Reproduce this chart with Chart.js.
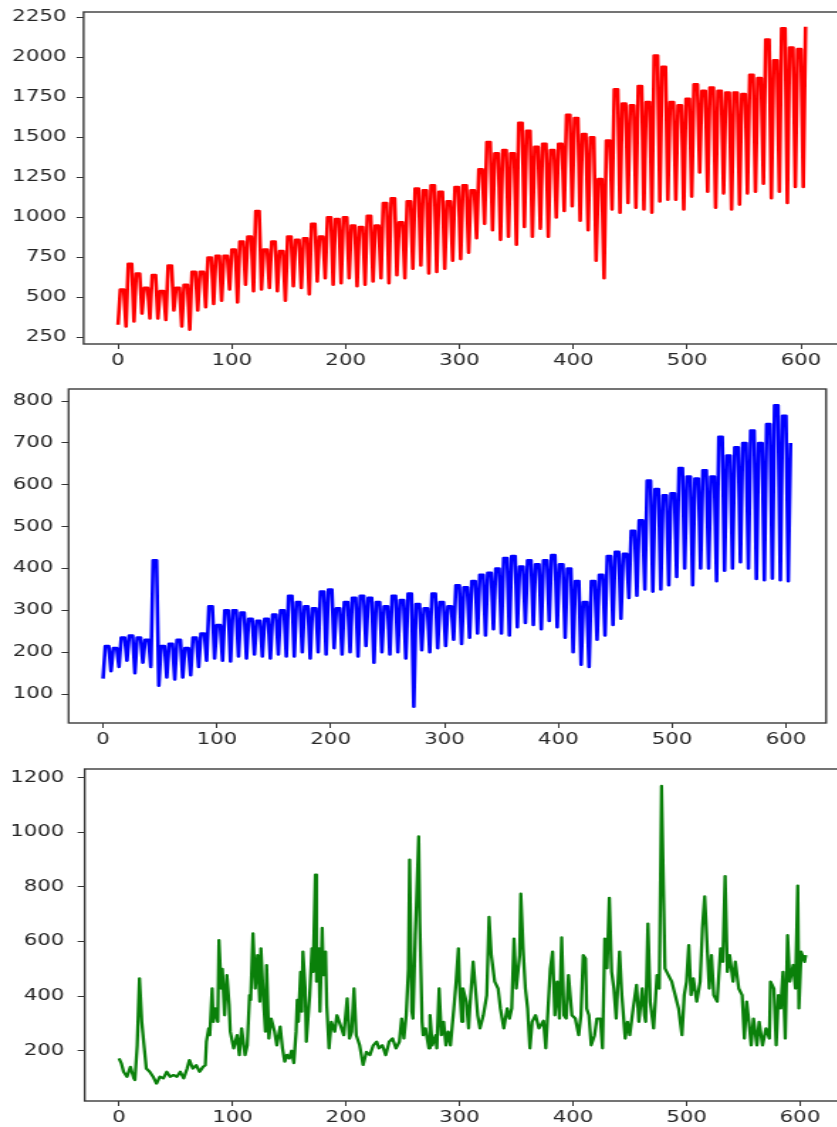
<!DOCTYPE html>
<html>
<head>
<meta charset="utf-8">
<script src="https://cdn.jsdelivr.net/npm/chart.js@4.4.1/dist/chart.umd.min.js"></script>
<style>
  html, body { margin: 0; padding: 0; background: #fff; overflow: hidden; }
  #figure { position: relative; width: 837px; height: 1127px; overflow: hidden; }
  canvas { position: absolute; left: 0; transform-origin: 0 0; }
</style>
</head>
<body>
<div id="figure">
  <canvas id="c1"></canvas>
  <canvas id="c2"></canvas>
  <canvas id="c3"></canvas>
</div>
<script>
// ---- data -------------------------------------------------------------
// Weekly lows / highs (one entry per 7-day block, days 0..605)
const WEEK = 7;
const redLow = [
  330, 320, 350, 400, 370, 370, 360, 420, 320, 300,
  420, 440, 460, 480, 550, 470, 580, 540, 550, 560,
  540, 480, 570, 560, 520, 600, 620, 580, 590, 620,
  570, 580, 600, 620, 590, 640, 620, 680, 700, 650,
  660, 680, 730, 740, 780, 870, 960, 920, 860, 880,
  830, 940, 880, 930, 880, 1000, 1040, 1070, 980, 920,
  730, 620, 1050, 1030, 1090, 1060, 1050, 1030, 1100, 1110,
  1110, 1050, 1130, 1280, 1160, 1060, 1150, 1050, 1080, 1150,
  1160, 1210, 1120, 1160, 1090, 1190, 1190
];
const redHigh = [
  550, 710, 650, 560, 640, 540, 700, 560, 580, 660,
  660, 750, 760, 760, 800, 850, 880, 1040, 800, 850,
  790, 880, 860, 870, 960, 880, 1000, 990, 1000, 950,
  940, 1010, 950, 1090, 1120, 970, 1100, 1180, 1170, 1200,
  1160, 1100, 1190, 1200, 1170, 1300, 1470, 1400, 1420, 1400,
  1590, 1540, 1440, 1460, 1420, 1460, 1640, 1620, 1520, 1500,
  1240, 1480, 1800, 1710, 1700, 1820, 1720, 2010, 1940, 1720,
  1700, 1740, 1830, 1790, 1810, 1790, 1780, 1780, 1770, 1890,
  1870, 2110, 1980, 2180, 2060, 2050, 2190
];
const blueLow = [
  137, 155, 165, 180, 150, 175, 165, 120, 140, 135,
  140, 145, 165, 180, 185, 180, 178, 190, 185, 195,
  190, 185, 195, 190, 190, 200, 185, 200, 195, 210,
  195, 200, 190, 215, 175, 200, 195, 200, 185, 70,
  205, 200, 210, 215, 230, 220, 235, 245, 240, 255,
  245, 240, 260, 270, 265, 255, 275, 260, 235, 200,
  170, 165, 230, 240, 265, 280, 330, 335, 350, 345,
  350, 360, 380, 400, 360, 400, 400, 370, 395, 400,
  415, 400, 375, 372, 376, 372, 370
];
const blueHigh = [
  215, 210, 235, 240, 235, 230, 420, 215, 220, 230,
  210, 235, 245, 310, 265, 300, 300, 295, 280, 275,
  280, 290, 300, 335, 320, 310, 305, 345, 350, 305,
  320, 330, 335, 330, 320, 310, 335, 325, 340, 315,
  305, 340, 320, 310, 360, 355, 370, 385, 390, 400,
  425, 430, 405, 420, 410, 420, 432, 410, 400, 370,
  320, 370, 385, 430, 440, 435, 490, 515, 610, 590,
  575, 580, 640, 620, 615, 635, 620, 715, 670, 690,
  700, 730, 700, 745, 790, 765, 700
];
// Daily series, sampled at its turning points
const greenDays = [
  0, 2, 4, 7, 10, 13, 14, 16, 18, 20, 22, 24, 27, 30, 33, 36, 39, 42, 45, 48,
  51, 54, 57, 60, 62, 65, 68, 71, 74, 76, 77, 79, 80, 82, 83, 85, 87, 88, 90, 91,
  93, 95, 97, 98, 101, 104, 106, 108, 111, 113, 115, 116, 118, 120, 122, 124, 125, 127, 129, 130,
  132, 134, 137, 139, 142, 144, 146, 148, 150, 152, 154, 156, 157, 158, 160, 161, 162, 164, 165, 168,
  170, 171, 173, 174, 176, 177, 179, 180, 182, 183, 185, 187, 190, 192, 195, 198, 201, 203, 205, 207,
  209, 212, 215, 218, 221, 224, 227, 229, 232, 235, 238, 241, 244, 247, 249, 251, 253, 255, 256, 258,
  259, 261, 262, 264, 265, 267, 268, 270, 273, 274, 276, 279, 280, 282, 284, 286, 288, 290, 292, 295,
  297, 299, 300, 302, 303, 306, 308, 309, 312, 314, 316, 318, 321, 324, 326, 328, 331, 334, 336, 339,
  342, 344, 346, 348, 350, 353, 354, 356, 358, 360, 362, 364, 367, 370, 374, 376, 378, 380, 382, 384,
  386, 388, 390, 392, 394, 396, 399, 402, 405, 407, 409, 411, 412, 414, 416, 419, 421, 424, 426, 428,
  430, 432, 434, 436, 438, 441, 443, 446, 448, 450, 453, 456, 458, 461, 463, 464, 466, 468, 471, 474,
  476, 478, 481, 484, 487, 490, 493, 496, 498, 500, 502, 504, 506, 509, 512, 514, 516, 518, 520, 522,
  524, 527, 530, 532, 534, 536, 538, 541, 543, 546, 549, 551, 553, 555, 557, 559, 562, 564, 567, 570,
  573, 574, 577, 579, 581, 583, 585, 587, 589, 591, 594, 596, 598, 599, 601, 604, 605
];
const greenValues = [
  172, 154, 123, 105, 141, 99, 93, 220, 465, 306, 220, 135, 123, 105, 80, 105, 99, 123, 105, 111,
  105, 123, 99, 135, 166, 135, 147, 123, 141, 147, 233, 282, 257, 428, 306, 355, 306, 605, 428, 500,
  330, 477, 367, 270, 209, 257, 184, 282, 184, 220, 404, 386, 630, 428, 550, 380, 575, 404, 270, 514,
  245, 318, 270, 220, 288, 209, 160, 185, 172, 200, 155, 270, 386, 306, 489, 343, 563, 428, 233, 404,
  575, 489, 845, 453, 575, 343, 650, 477, 563, 367, 209, 306, 270, 330, 294, 257, 392, 245, 270, 428,
  257, 220, 148, 196, 184, 220, 233, 209, 220, 184, 233, 245, 209, 233, 318, 245, 330, 500, 900, 343,
  318, 623, 733, 985, 673, 306, 257, 282, 209, 330, 220, 257, 209, 428, 257, 306, 220, 270, 220, 355,
  453, 575, 441, 306, 428, 380, 282, 355, 526, 428, 330, 282, 330, 404, 690, 550, 453, 428, 355, 282,
  355, 318, 355, 611, 428, 550, 775, 575, 428, 355, 209, 306, 330, 282, 310, 209, 355, 500, 563, 330,
  453, 318, 615, 330, 318, 477, 330, 318, 257, 330, 550, 538, 355, 330, 220, 257, 318, 318, 209, 611,
  502, 760, 489, 428, 318, 563, 404, 245, 306, 257, 355, 441, 306, 428, 330, 306, 666, 380, 282, 477,
  428, 1170, 502, 477, 453, 404, 355, 257, 404, 453, 587, 404, 465, 380, 453, 648, 765, 600, 428, 550,
  404, 380, 575, 526, 840, 489, 550, 453, 526, 428, 404, 245, 380, 306, 220, 318, 220, 306, 220, 282,
  245, 453, 428, 220, 404, 355, 489, 245, 623, 453, 514, 428, 805, 355, 563, 526, 550
];
// Axis ticks
const xTicks = [0, 100, 200, 300, 400, 500, 600];
const redTicks = [250, 500, 750, 1000, 1250, 1500, 1750, 2000, 2250];
const blueTicks = [100, 200, 300, 400, 500, 600, 700, 800];
const greenTicks = [200, 400, 600, 800, 1000, 1200];

// ---- drawing ----------------------------------------------------------
const SX = 1.42;            // the figure is drawn horizontally stretched
const X_RANGE = [-30.25, 635.25];
const TEXT = '#262626';
const FONT = { family: "'DejaVu Sans', 'Liberation Sans', sans-serif", size: 15 };

// Each week: a low day, then the high level held through the working days.
function weekly(low, high) {
  const pts = [];
  low.forEach((v, k) => {
    const d = k * WEEK;
    pts.push({ x: d, y: v });
    if (d + 2 <= 605) pts.push({ x: d + 2, y: high[k] });
    if (d + 5 <= 605) pts.push({ x: d + 5, y: high[k] });
  });
  return pts;
}

// Box round the plot area (all four sides)
const frame = {
  id: 'frame',
  afterDatasetsDraw(chart) {
    const { ctx, chartArea: a } = chart;
    ctx.save();
    ctx.strokeStyle = '#3a3a3a';
    ctx.lineWidth = 1.4;
    ctx.strokeRect(a.left, a.top, a.right - a.left, a.bottom - a.top);
    ctx.restore();
  }
};

const panels = [
  { id: 'c1', top: 0, height: 372, plot: { left: 83.6, right: 841.1, top: 12, bottom: 344 },
    labelRight: 65, yRange: [210, 2282], yTicks: redTicks, color: '#ff0000', width: 2.6,
    points: weekly(redLow, redHigh) },
  { id: 'c2', top: 375, height: 375, plot: { left: 68.6, right: 826.1, top: 14, bottom: 348 },
    labelRight: 52, yRange: [31, 829], yTicks: blueTicks, color: '#0000ff', width: 2.6,
    points: weekly(blueLow, blueHigh) },
  { id: 'c3', top: 755, height: 372, plot: { left: 84.7, right: 840, top: 14, bottom: 346 },
    labelRight: 63, yRange: [16, 1232], yTicks: greenTicks, color: '#0a800a', width: 2.3,
    points: greenDays.map((d, i) => ({ x: d, y: greenValues[i] })) }
];

panels.forEach(p => {
  const cv = document.getElementById(p.id);
  const leftU = p.plot.left / SX;
  const rightU = p.plot.right / SX;
  const W = Math.ceil(rightU) + 3;
  const H = p.height;
  cv.width = W; cv.height = H;
  cv.style.width = W + 'px'; cv.style.height = H + 'px';
  cv.style.top = p.top + 'px';
  cv.style.transform = 'scaleX(' + SX + ')';
  const TL = 5;
  const yPad = Math.max(0, leftU - TL - p.labelRight / SX - 1);

  new Chart(cv, {
    type: 'line',
    data: {
      datasets: [{
        data: p.points,
        borderColor: p.color,
        borderWidth: p.width,
        borderJoinStyle: 'round',
        pointRadius: 0,
        tension: 0,
        fill: false
      }]
    },
    options: {
      responsive: false,
      animation: false,
      events: [],
      layout: { autoPadding: false, padding: { left: 0, top: p.plot.top, right: W - rightU, bottom: 0 } },
      plugins: { legend: { display: false }, tooltip: { enabled: false } },
      scales: {
        x: {
          type: 'linear', min: X_RANGE[0], max: X_RANGE[1],
          afterBuildTicks(s) { s.ticks = xTicks.map(v => ({ value: v })); },
          afterFit(s) { s.height = H - p.plot.bottom; s.paddingLeft = 0; s.paddingRight = 0; },
          ticks: { callback: v => String(v), font: FONT, color: TEXT, padding: 3,
                   maxRotation: 0, autoSkip: false },
          grid: { drawOnChartArea: false, drawTicks: true, tickLength: TL, tickColor: '#333', tickWidth: 1 },
          border: { display: false }
        },
        y: {
          type: 'linear', min: p.yRange[0], max: p.yRange[1],
          afterBuildTicks(s) { s.ticks = p.yTicks.map(v => ({ value: v })); },
          afterFit(s) { s.width = leftU; s.paddingTop = 0; s.paddingBottom = 0; },
          ticks: { callback: v => String(v), font: FONT, color: TEXT, padding: yPad, autoSkip: false },
          grid: { drawOnChartArea: false, drawTicks: true, tickLength: TL, tickColor: '#333', tickWidth: 1 },
          border: { display: false }
        }
      }
    },
    plugins: [frame]
  });
});
</script>
</body>
</html>
